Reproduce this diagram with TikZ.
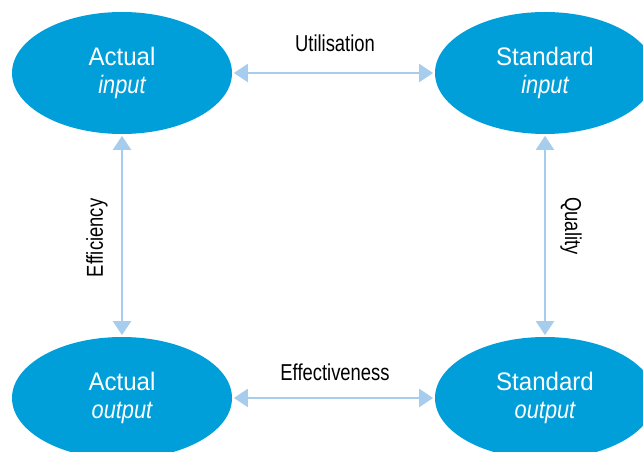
\documentclass[tikz,border=0pt]{standalone}
\usepackage{fontspec}
\setmainfont{Liberation Sans}
\newfontfamily\condfont{Liberation Sans}[FakeStretch=0.8]
\newfontfamily\elfont{Liberation Sans}[FakeStretch=0.95]
\newfontfamily\elitfont{Liberation Sans Italic}[FakeStretch=0.86]
\usetikzlibrary{shapes.geometric,arrows.meta}
\definecolor{ellblue}{RGB}{0,159,218}
\definecolor{arrblue}{RGB}{166,204,238}
\tikzset{
  blob/.style={ellipse, fill=ellblue, draw=none, minimum width=165pt, minimum height=91.5pt,
    inner sep=0pt, text=white, align=center, font=\elfont\fontsize{19pt}{20.5pt}\selectfont},
  link/.style={draw=arrblue, line width=1.5pt, {Triangle[width=13.5pt,length=10.5pt]}-{Triangle[width=13.5pt,length=10.5pt]}, shorten <=1.2pt, shorten >=1.2pt},
  lab/.style={font=\condfont\fontsize{17.25pt}{20pt}\selectfont, text=black, inner sep=0pt}
}
\begin{document}
\begin{tikzpicture}[x=0.75pt,y=-0.75pt]
\useasboundingbox (0,0) rectangle (643,452);
\node[blob] (ai) at (122,73) {Actual\\{\elitfont input}};
\node[blob] (si) at (545,73) {Standard\\{\elitfont input}};
\node[blob] (ao) at (122,398) {Actual\\{\elitfont output}};
\node[blob] (so) at (545,398) {Standard\\{\elitfont output}};
\draw[link] (ai.east) -- (si.west);
\draw[link] (ao.east) -- (so.west);
\draw[link] (ai.south) -- (ao.north);
\draw[link] (si.south) -- (so.north);
\node[lab] (lu) at (335,43) {Utilisation};
\node[lab] (le) at (335,372) {Effectiveness};
\node[lab, rotate=90] (lf) at (97,238) {Efficiency};
\node[lab, rotate=-90] (lq) at (571,226) {Quality};
\end{tikzpicture}
\end{document}
